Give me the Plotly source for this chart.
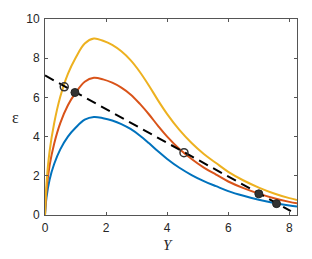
import plotly.graph_objects as go

# ---- data ----
Y = [0, 0.05, 0.15, 0.3, 0.5, 0.75, 1.0, 1.3, 1.6, 1.9, 2.2, 2.5, 2.8, 3.1, 3.4,
     3.7, 4.0, 4.4, 4.8, 5.2, 5.6, 6.0, 6.5, 7.0, 7.5, 8.0, 8.25]
eps_blue = [0, 0.9, 1.8, 2.6, 3.35, 4.0, 4.45, 4.86, 5.0, 4.94, 4.82, 4.64, 4.39,
            4.06, 3.67, 3.25, 2.86, 2.41, 2.04, 1.73, 1.47, 1.22, 0.98, 0.78,
            0.61, 0.48, 0.43]
eps_orange = [0, 1.26, 2.52, 3.64, 4.69, 5.6, 6.23, 6.8, 7.0, 6.92, 6.75, 6.5,
              6.15, 5.68, 5.14, 4.55, 4.0, 3.37, 2.86, 2.42, 2.06, 1.71, 1.37,
              1.09, 0.85, 0.67, 0.6]
eps_yellow = [0, 1.62, 3.24, 4.68, 6.03, 7.2, 8.01, 8.75, 9.0, 8.89, 8.68, 8.35,
              7.9, 7.31, 6.61, 5.85, 5.15, 4.34, 3.67, 3.11, 2.65, 2.2, 1.76,
              1.4, 1.1, 0.86, 0.77]

line_Y = [0, 8.05]
line_eps = [7.12, 0.2]

open_Y = [0.63, 4.55]
open_eps = [6.54, 3.18]
filled_Y = [0.98, 7.0, 7.58]
filled_eps = [6.25, 1.08, 0.58]

x_ticks = [0, 2, 4, 6, 8]
y_ticks = [0, 2, 4, 6, 8, 10]

fig = go.Figure()
for vals, col in [(eps_blue, "#0072BD"), (eps_orange, "#D95319"), (eps_yellow, "#EDB120")]:
    fig.add_trace(go.Scatter(x=Y, y=vals, mode="lines",
                             line=dict(color=col, width=2, shape="spline", smoothing=1.0),
                             hoverinfo="skip", showlegend=False))

fig.add_trace(go.Scatter(x=line_Y, y=line_eps, mode="lines",
                         line=dict(color="black", width=2, dash="10px,6px"),
                         showlegend=False))
fig.add_trace(go.Scatter(x=open_Y, y=open_eps, mode="markers",
                         marker=dict(symbol="circle-open", size=8, color="#333333",
                                     line=dict(width=1.5, color="#333333")),
                         showlegend=False))
fig.add_trace(go.Scatter(x=filled_Y, y=filled_eps, mode="markers",
                         marker=dict(symbol="circle", size=8, color="#333333",
                                     line=dict(width=1, color="#222222")),
                         showlegend=False))

axis_common = dict(showgrid=False, zeroline=False, showline=True, linecolor="#555555",
                   linewidth=1, mirror="ticks", ticks="inside", ticklen=3,
                   tickcolor="#555555", ticklabelstandoff=2,
                   tickfont=dict(family="Liberation Sans", size=12, color="#262626"))

fig.update_xaxes(range=[0, 8.25], tickvals=x_ticks, ticktext=[str(t) for t in x_ticks],
                 **axis_common)
fig.update_yaxes(range=[0, 10], tickvals=y_ticks, ticktext=[str(t) for t in y_ticks],
                 **axis_common)

fig.add_annotation(text="<i>Y</i>", xref="paper", yref="paper", x=0.49, y=-0.154,
                   showarrow=False, xanchor="center", yanchor="middle",
                   font=dict(family="Liberation Serif", size=15, color="#262626"))
fig.add_annotation(text="ε", xref="paper", yref="paper", x=-0.119, y=0.495,
                   showarrow=False, xanchor="center", yanchor="middle",
                   font=dict(family="Liberation Serif", size=16, color="#262626"))

fig.update_layout(width=312, height=259, margin=dict(l=45, r=15, t=16, b=44),
                  plot_bgcolor="white", paper_bgcolor="white")

fig.write_html("out.html", config={"displayModeBar": False},
               post_script="document.body.style.margin='0px';")
